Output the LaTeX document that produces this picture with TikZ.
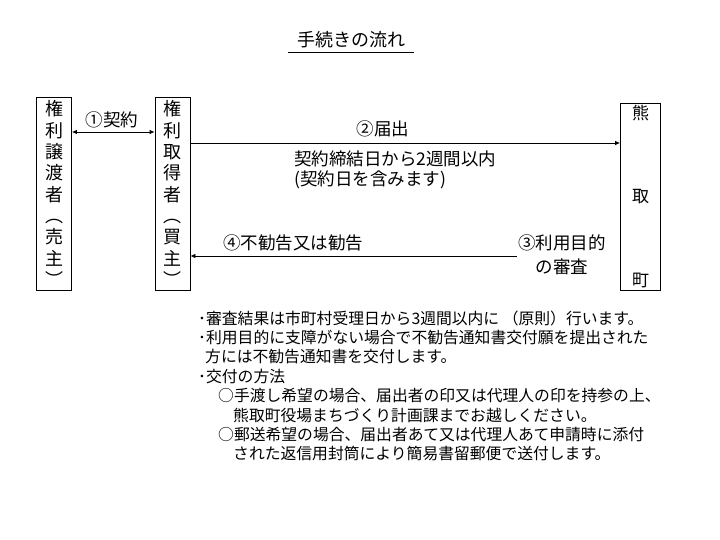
\documentclass[tikz,border=0pt]{standalone}
\usepackage{fontspec}
\setmainfont{Noto Sans CJK JP}
\usetikzlibrary{arrows.meta,positioning}

\tikzset{
  party/.style={draw, line width=0.8pt, inner sep=0pt, align=center,
    minimum width=35pt, minimum height=193pt, font=\fontsize{18}{21.3}\selectfont},
  flow/.style={line width=0.8pt, -{Latex[length=5pt,width=4.5pt]}},
  twoway/.style={line width=0.8pt, {Latex[length=5pt,width=4.5pt]}-{Latex[length=5pt,width=4.5pt]}},
  lbl/.style={font=\fontsize{17.5}{20}\selectfont, inner sep=0pt}
}

\begin{document}
\begin{tikzpicture}[x=1pt, y=-1pt]
    \useasboundingbox[fill=white] (0,0) rectangle (720,540);

    % Title
    \node[lbl, inner xsep=9pt, font=\fontsize{18}{20}\selectfont] (title) at (351,40) {手続きの流れ};
    \coordinate (ul) at (0,52);
    \draw[line width=0.8pt] (title.west |- ul) -- (title.east |- ul);

    % Boxes
    \node[party] (seller) at (54,193.5) {権\\利\\譲\\渡\\者\\︵\\売\\主\\︶};
    \node[party] (buyer) at (172.5,193.5) {権\\利\\取\\得\\者\\︵\\買\\主\\︶};
    \node[party, minimum width=40pt, minimum height=187pt,
      font=\fontsize{17}{83.5}\selectfont] (town) at (640.5,196.5) {熊\\取\\町};

    % Arrows
    \coordinate (a1) at (0,132);
    \coordinate (a2) at (0,143);
    \coordinate (a3) at (517,256);
    \draw[twoway] (seller.east |- a1) -- (buyer.west |- a1);
    \draw[flow] (buyer.east |- a2) -- (town.west |- a2);
    \draw[flow] (a3) -- (buyer.east |- a3);

    % Labels
    \node[lbl] (contract) at (112,120) {①契約};
    \node[lbl] (notify) at (383,129) {②届出};
    \node[lbl, anchor=west, align=left] (term) at (294,170)
      {契約締結日から2週間以内\\(契約日を含みます)};
    \node[lbl] (answer) at (293,243) {④不勧告又は勧告};
    \node[lbl, align=center, font=\fontsize{17.5}{24}\selectfont] (review) at (562,255)
      {③利用目的\\の審査};

    % Notes
    \node[anchor=west, align=left, inner sep=0pt,
      font=\fontsize{15.8}{19.4}\selectfont] (notes) at (198,386)
      {･審査結果は市町村受理日から3週間以内に （原則）行います。\\
       ･利用目的に支障がない場合で不勧告通知書交付願を提出された\\
       \hspace*{7pt}方には不勧告通知書を交付します。\\
       ･交付の方法\\
       \hspace*{20pt}○手渡し希望の場合、届出者の印又は代理人の印を持参の上、\\
       \hspace*{35pt}熊取町役場まちづくり計画課までお越しください。\\
       \hspace*{20pt}○郵送希望の場合、届出者あて又は代理人あて申請時に添付\\
       \hspace*{35pt}された返信用封筒により簡易書留郵便で送付します。};

\end{tikzpicture}
\end{document}
